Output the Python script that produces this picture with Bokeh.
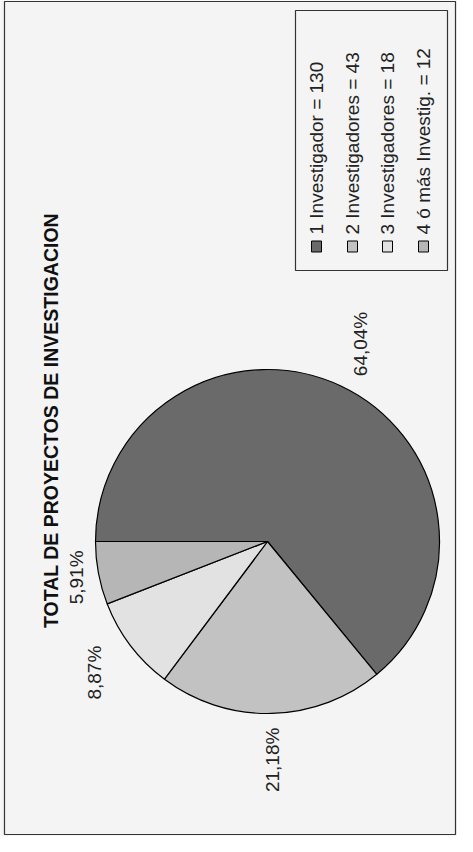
from math import pi, cos, sin
from bokeh.plotting import figure
from bokeh.models import Range1d, ColumnDataSource
from bokeh.core.properties import value
from bokeh.embed import file_html
from bokeh.resources import INLINE

# ---- data ----
title_text = "TOTAL DE PROYECTOS DE INVESTIGACION"
categories = ["1 Investigador", "2 Investigadores", "3 Investigadores", "4 ó más Investig."]
counts = [130, 43, 18, 12]
colors = ["#6a6a6a", "#c2c2c2", "#e2e2e2", "#b6b6b6"]

W, H = 457, 836
IMG_H = 852


def Y(img_y):
    return IMG_H - img_y


p = figure(width=W, height=H, output_backend="svg", toolbar_location=None,
           x_range=Range1d(8, 8 + W), y_range=Range1d(8, 8 + H),
           min_border=0, background_fill_color="#f4f4f4",
           border_fill_color="#f4f4f4", outline_line_color=None)
p.axis.visible = False
p.grid.visible = False

FONT = value("Liberation Sans")

# outer chart frame
p.quad(left=[12], right=[463], bottom=[Y(842)], top=[Y(9)], fill_color=None,
       line_color="#333333", line_width=1.2)

# ---- pie (drawn rotated: starts at left, runs clockwise) ----
cx, cy, r = 275, Y(549), 172
total = float(sum(counts))
fracs = [c / total for c in counts]
starts, ends, mids = [], [], []
cum = 0.0
for f in fracs:
    a0 = pi - 2 * pi * cum
    a1 = pi - 2 * pi * (cum + f)
    starts.append(a1)
    ends.append(a0)
    mids.append((a0 + a1) / 2)
    cum += f

src = ColumnDataSource(dict(start=starts, end=ends, color=colors))
p.wedge(x=cx, y=cy, radius=r, start_angle="start", end_angle="end",
        fill_color="color", line_color="black", line_width=1.2, source=src)

# percentage labels
labels = [("%.2f%%" % (f * 100)).replace(".", ",") for f in fracs]
lr = [1.27 * r, 1.27 * r, 1.26 * r, 1.13 * r]
lx = [cx + lr[i] * cos(m) for i, m in enumerate(mids)]
ly = [cy + lr[i] * sin(m) for i, m in enumerate(mids)]
p.text(x=lx, y=ly, text=labels, angle=pi / 2, text_align="center",
       text_baseline="middle", text_font=FONT, text_font_size="19px",
       text_color="#222222")

# title
p.text(x=[58], y=[Y(428)], text=[title_text], angle=pi / 2, text_align="center",
       text_baseline="middle", text_font=FONT, text_font_size="19.5px",
       text_font_style="bold", text_color="#111111")

# ---- legend (rotated) ----
p.quad(left=[303], right=[455], bottom=[Y(278)], top=[Y(18)], fill_color="#f4f4f4",
       line_color="#333333", line_width=1.2)
leg_x = [324, 360, 395, 431]
leg_text = ["%s = %d" % (c, n) for c, n in zip(categories, counts)]
p.rect(x=leg_x, y=[Y(254)] * 4, width=10, height=11, fill_color=colors,
       line_color="black", line_width=1)
p.text(x=leg_x, y=[Y(242)] * 4, text=leg_text, angle=pi / 2, text_align="left",
       text_baseline="middle", text_font=FONT, text_font_size="19px",
       text_color="#222222")

open("out.html", "w").write(file_html(p, INLINE))
